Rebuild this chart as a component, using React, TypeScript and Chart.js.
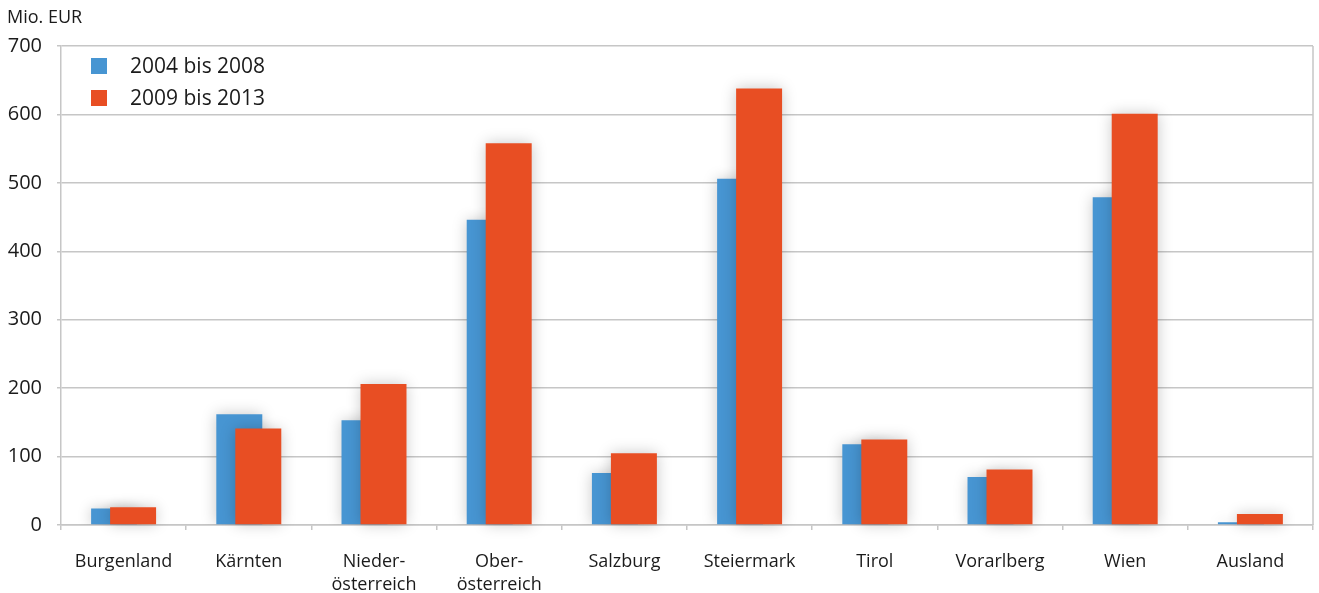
import { useEffect, useRef } from 'react';
import { Chart, registerables } from 'chart.js';

Chart.register(...registerables);

// Bundesländer (plus foreign) shown along the x axis
const regions: (string | string[])[] = [
  'Burgenland',
  'Kärnten',
  ['Nieder-', 'österreich'],
  ['Ober-', 'österreich'],
  'Salzburg',
  'Steiermark',
  'Tirol',
  'Vorarlberg',
  'Wien',
  'Ausland',
];

const firstPeriodLabel = '2004 bis 2008';
const secondPeriodLabel = '2009 bis 2013';

// Mio. EUR per region
const firstPeriodValues = [24, 162, 153, 446, 76, 506, 118, 70, 479, 4];
const secondPeriodValues = [26, 141, 206, 558, 105, 638, 125, 81, 601, 16];

const unitLabel = 'Mio. EUR';
const yMin = 0;
const yMax = 700;
const yStep = 100;

const BLUE = '#4795d2';
const ORANGE = '#e84e23';
const GRID = '#c6c6c6';
const TEXT = '#1b1b1b';
const FONT = "'Open Sans', 'Noto Sans', sans-serif";

// Second series is held back from the normal pass and painted last, so the
// right-hand (orange) bar overlaps the blue one. Bars get a soft drop shadow.
const barLayering = {
  id: 'barLayering',
  beforeDatasetsDraw(chart: any) {
    const ctx = chart.ctx;
    ctx.save();
    ctx.shadowColor = 'rgba(0,0,0,0.22)';
    ctx.shadowBlur = 14;
    ctx.shadowOffsetX = 0;
    ctx.shadowOffsetY = 0;
  },
  beforeDatasetDraw(_chart: any, args: any) {
    if (args.index === 1) return false;
    return true;
  },
  afterDatasetsDraw(chart: any) {
    const meta = chart.getDatasetMeta(1);
    if (meta && !meta.hidden) meta.controller.draw();
    chart.ctx.restore();
  },
};

// Right frame line, unit caption and the in-plot legend
const decorations = {
  id: 'decorations',
  afterDraw(chart: any) {
    const { ctx, chartArea } = chart;
    ctx.save();
    ctx.strokeStyle = GRID;
    ctx.lineWidth = 1.5;
    ctx.beginPath();
    ctx.moveTo(chartArea.right, chartArea.top);
    ctx.lineTo(chartArea.right, chartArea.bottom);
    ctx.stroke();

    ctx.fillStyle = TEXT;
    ctx.font = `18px ${FONT}`;
    ctx.textAlign = 'left';
    ctx.textBaseline = 'middle';
    ctx.fillText(unitLabel, 7, 18);

    const items = chart.data.datasets;
    items.forEach((ds: any, i: number) => {
      const cy = 66 + i * 32;
      ctx.fillStyle = ds.backgroundColor;
      ctx.fillRect(91, cy - 8, 16, 16);
      ctx.fillStyle = TEXT;
      ctx.font = `21px ${FONT}`;
      ctx.fillText(ds.label, 130, cy + 1);
    });
    ctx.restore();
  },
};

export default function App() {
  const canvasRef = useRef<HTMLCanvasElement | null>(null);

  useEffect(() => {
    if (!canvasRef.current) return;
    const chart = new Chart(canvasRef.current, {
      type: 'bar',
      data: {
        labels: regions,
        datasets: [
          {
            label: firstPeriodLabel,
            data: firstPeriodValues,
            backgroundColor: BLUE,
            borderWidth: 0,
            categoryPercentage: 0.3035,
            barPercentage: 2.42,
          },
          {
            label: secondPeriodLabel,
            data: secondPeriodValues,
            backgroundColor: ORANGE,
            borderWidth: 0,
            categoryPercentage: 0.3035,
            barPercentage: 2.42,
          },
        ],
      },
      options: {
        animation: false,
        responsive: false,
        maintainAspectRatio: false,
        layout: { padding: { top: 46, right: 6, left: 0, bottom: 0 } },
        plugins: {
          legend: { display: false },
          title: { display: false },
          tooltip: { enabled: false },
        },
        scales: {
          x: {
            grid: {
              display: true,
              offset: true,
              drawOnChartArea: false,
              drawTicks: true,
              tickLength: 5,
              color: GRID,
              lineWidth: 1.5,
            },
            border: { display: true, color: GRID, width: 1.5 },
            ticks: {
              color: TEXT,
              font: { family: FONT, size: 18, lineHeight: 1.28 },
              padding: 20,
              maxRotation: 0,
              autoSkip: false,
            },
            afterFit: (s: any) => {
              s.height = 68;
            },
          },
          y: {
            min: yMin,
            max: yMax,
            grid: {
              color: GRID,
              lineWidth: 1.5,
              drawTicks: true,
              tickLength: 4,
            },
            border: { display: true, color: GRID, width: 1.5 },
            ticks: {
              stepSize: yStep,
              color: TEXT,
              font: { family: FONT, size: 20 },
              padding: 15,
            },
            afterFit: (s: any) => {
              s.width = 61;
            },
          },
        },
      },
      plugins: [barLayering, decorations],
    });
    return () => chart.destroy();
  }, []);

  return (
    <div style={{ position: 'absolute', left: 0, top: 0, width: 1319, height: 593, background: '#fff' }}>
      <canvas ref={canvasRef} width={1319} height={593} />
    </div>
  );
}
